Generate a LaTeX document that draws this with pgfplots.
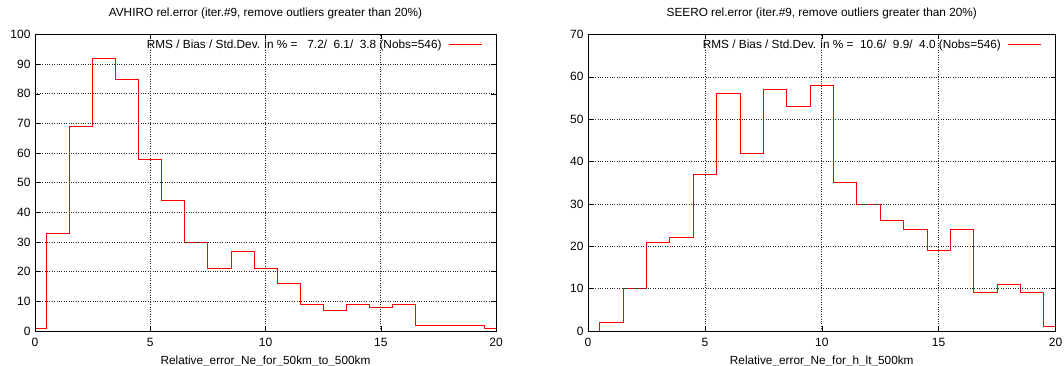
\documentclass[border=0pt]{standalone}
\usepackage{pgfplots}
\usepackage{pgfplotstable}
\pgfplotsset{compat=1.18}
\usepackage{fontspec}
\setmainfont{Liberation Sans}
\pgfplotstableread{
x y
0 1
1 33
2 69
3 92
4 85
5 58
6 44
7 30
8 21
9 27
10 21
11 16
12 9
13 7
14 9
15 8
16 9
17 2
18 2
19 2
20 1
}\avhiro
\pgfplotstableread{
x y
0 0
1 2
2 10
3 21
4 22
5 37
6 56
7 42
8 57
9 53
10 58
11 35
12 30
13 26
14 24
15 19
16 24
17 9
18 11
19 9
20 1
}\seero
\pgfplotsset{
  myax/.style={
    scale only axis,
    anchor=south west,
    height=296.5pt,
    xmin=0, xmax=20,
    xtick={0,5,10,15,20},
    tick pos=both,
    tick align=inside,
    major tick length=5pt,
    tick style={black, line width=0.5pt},
    grid=major,
    grid style={dotted, black!85, line width=0.6pt},
    axis line style={black, line width=0.9pt},
    axis on top,
    font=\fontsize{11.8}{14}\selectfont,
    /pgf/number format/assume math mode=true,
    ticklabel style={font=\fontsize{12}{14}\selectfont},
    yticklabel style={xshift=-1.0pt},
    xticklabel style={yshift=-4.0pt},
    title style={at={(axis description cs:0.5,1)}, anchor=base, yshift=11.7pt, font=\fontsize{11.8}{14}\selectfont},
    xlabel style={at={(axis description cs:0.5,0)}, anchor=base, yshift=-34pt, font=\fontsize{11.8}{14}\selectfont},
    legend plot pos=right,
    legend cell align=right,
    legend style={draw=none, fill=none, inner sep=0pt, anchor=east, font=\fontsize{11.8}{14}\selectfont, column sep=0pt,
      nodes={inner sep=0pt}},
    legend image code/.code={\path[draw=none, fill=none] (0pt,0pt) -- (1pt,0pt); \draw[#1] (7pt,0pt) -- (40pt,0pt);},
  }
}
\begin{document}
\begin{tikzpicture}[x=1pt,y=1pt]
\path[use as bounding box] (0,0) rectangle (1064,366);
\begin{axis}[myax,
  at={(35pt,35pt)},
  width=461pt,
  ymin=0, ymax=100, ytick={0,10,...,100},
  title={AVHIRO rel.error (iter.\#9, remove outliers greater than 20\%)},
  xlabel={Relative\_error\_Ne\_for\_50km\_to\_500km},
  legend style={at={(axis description cs:0.97,0.965)}},
]
\addplot[red, line width=0.8pt, const plot mark mid] table {\avhiro};
\addlegendentry{RMS / Bias / Std.Dev. in \% =\ \ \ 7.2/\ \ 6.1/\ \ 3.8 (Nobs=546)}
\end{axis}
\begin{axis}[myax,
  at={(588pt,35pt)},
  width=467.5pt,
  ymin=0, ymax=70, ytick={0,10,...,70},
  title={SEERO rel.error (iter.\#9, remove outliers greater than 20\%)},
  xlabel={Relative\_error\_Ne\_for\_h\_lt\_500km},
  legend style={at={(axis description cs:0.97,0.965)}},
]
\addplot[red, line width=0.8pt, const plot mark mid] table {\seero};
\addlegendentry{RMS / Bias / Std.Dev. in \% =\ \ 10.6/\ \ 9.9/\ \ 4.0 (Nobs=546)}
\end{axis}
\end{tikzpicture}
\end{document}
